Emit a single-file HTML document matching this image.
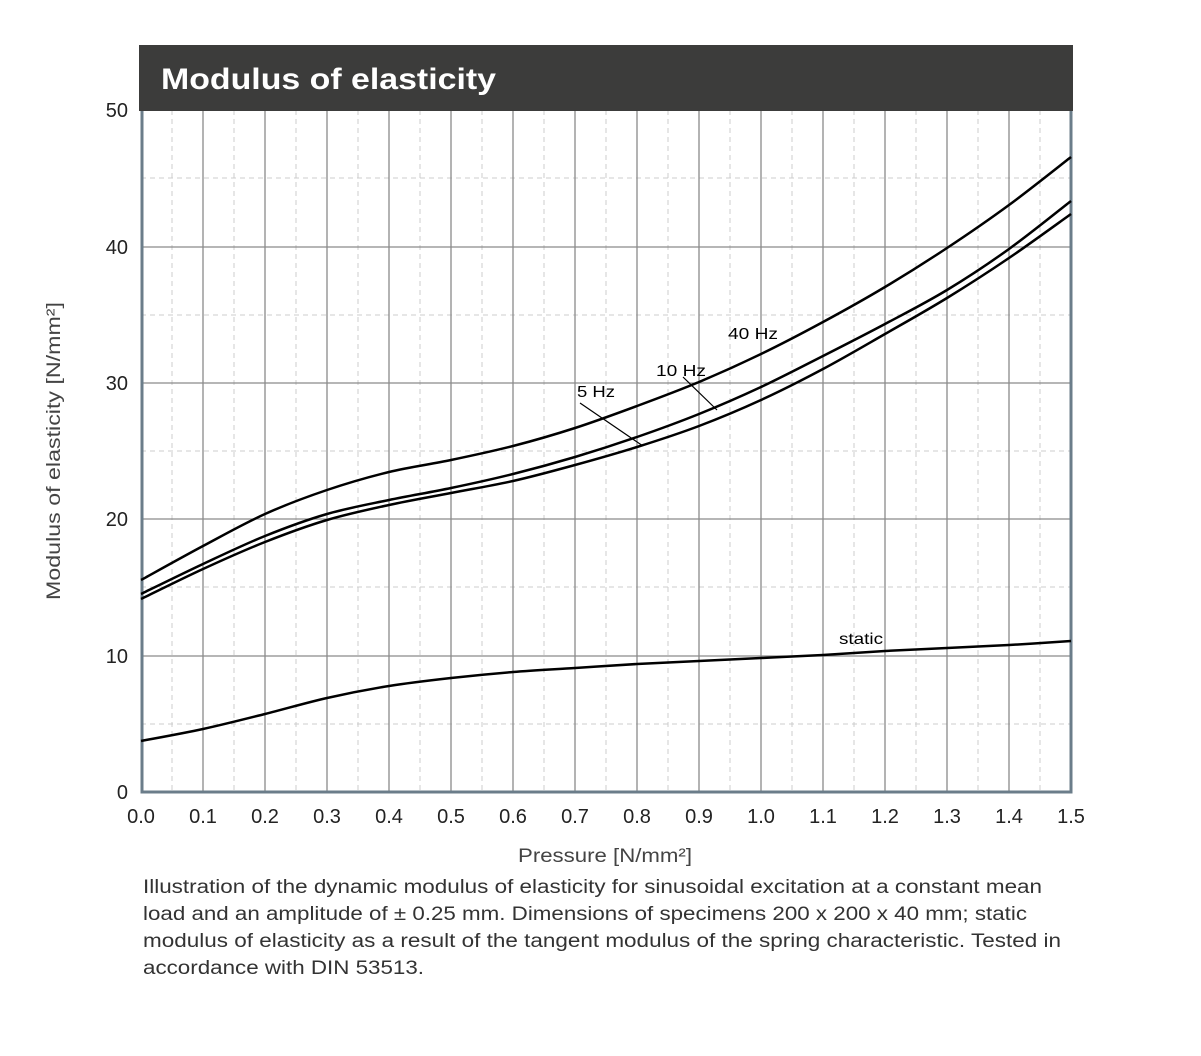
<!DOCTYPE html>
<html><head><meta charset="utf-8"><style>
body{margin:0;background:#fff;width:1201px;height:1051px;overflow:hidden;font-family:"Liberation Sans",sans-serif}
</style></head><body>
<svg id="s" width="1201" height="1051" xmlns="http://www.w3.org/2000/svg" font-family="Liberation Sans, sans-serif">
<g stroke="#ccc" stroke-width="1" stroke-dasharray="5,4">
<line x1="172" y1="110" x2="172" y2="792"/><line x1="234" y1="110" x2="234" y2="792"/><line x1="296" y1="110" x2="296" y2="792"/><line x1="358" y1="110" x2="358" y2="792"/><line x1="420" y1="110" x2="420" y2="792"/><line x1="482" y1="110" x2="482" y2="792"/><line x1="544" y1="110" x2="544" y2="792"/><line x1="606" y1="110" x2="606" y2="792"/><line x1="668" y1="110" x2="668" y2="792"/><line x1="730" y1="110" x2="730" y2="792"/><line x1="792" y1="110" x2="792" y2="792"/><line x1="854" y1="110" x2="854" y2="792"/><line x1="916" y1="110" x2="916" y2="792"/><line x1="978" y1="110" x2="978" y2="792"/><line x1="1040" y1="110" x2="1040" y2="792"/>
<line x1="141" y1="178" x2="1071" y2="178"/><line x1="141" y1="315" x2="1071" y2="315"/><line x1="141" y1="451" x2="1071" y2="451"/><line x1="141" y1="587" x2="1071" y2="587"/><line x1="141" y1="724" x2="1071" y2="724"/>
</g>
<g stroke="#8a8a8a" stroke-width="1.3">
<line x1="203" y1="110" x2="203" y2="792"/><line x1="265" y1="110" x2="265" y2="792"/><line x1="327" y1="110" x2="327" y2="792"/><line x1="389" y1="110" x2="389" y2="792"/><line x1="451" y1="110" x2="451" y2="792"/><line x1="513" y1="110" x2="513" y2="792"/><line x1="575" y1="110" x2="575" y2="792"/><line x1="637" y1="110" x2="637" y2="792"/><line x1="699" y1="110" x2="699" y2="792"/><line x1="761" y1="110" x2="761" y2="792"/><line x1="823" y1="110" x2="823" y2="792"/><line x1="885" y1="110" x2="885" y2="792"/><line x1="947" y1="110" x2="947" y2="792"/><line x1="1009" y1="110" x2="1009" y2="792"/>
<line x1="141" y1="247" x2="1071" y2="247"/><line x1="141" y1="383" x2="1071" y2="383"/><line x1="141" y1="519" x2="1071" y2="519"/><line x1="141" y1="656" x2="1071" y2="656"/>
</g>
<polyline points="142,110 142,792 1071,792 1071,110" fill="none" stroke="#6b7d8a" stroke-width="3"/>
<rect x="139" y="45" width="934" height="66" fill="#3c3c3b"/>
<text x="161" y="89" font-size="30" font-weight="bold" fill="#fff" textLength="335" lengthAdjust="spacingAndGlyphs">Modulus of elasticity</text>
<g id="curves" fill="none" stroke="#000" stroke-width="2.5" stroke-linejoin="round">
<polyline points="141,580 203,546 265,514 327,490 389,472 451,460 513,446 575,428 637,406 699,382 761,354 823,322 885,287 947,248 1009,205 1071,157"/>
<polyline points="141,594 203,564 265,536 327,514 389,500 451,488 513,474 575,457 637,437 699,414 761,387 823,356 885,324 947,290 1009,249 1071,201"/>
<polyline points="141,599 203,569 265,542 327,520 389,505 451,493 513,481 575,465 637,447 699,426 761,400 823,369 885,334 947,298 1009,258 1071,214"/>
<polyline points="141,741 203,729 265,714 327,698 389,686 451,678 513,672 575,668 637,664 699,661 761,658 823,655 885,651 947,648 1009,645 1071,641"/>
</g>
<g stroke="#000" stroke-width="1.2"><line x1="580" y1="403" x2="643" y2="446"/><line x1="683" y1="377" x2="717" y2="410"/></g>
<g font-size="16" fill="#000">
<text x="728" y="339" textLength="50" lengthAdjust="spacingAndGlyphs">40 Hz</text><text x="656" y="376" textLength="50" lengthAdjust="spacingAndGlyphs">10 Hz</text><text x="577" y="397" textLength="38" lengthAdjust="spacingAndGlyphs">5 Hz</text><text x="839" y="644" textLength="44" lengthAdjust="spacingAndGlyphs">static</text>
</g>
<g font-size="20" fill="#222" text-anchor="end">
<text x="128" y="117">50</text><text x="128" y="254">40</text><text x="128" y="390">30</text><text x="128" y="526">20</text><text x="128" y="663">10</text><text x="128" y="799">0</text>
</g>
<g font-size="20" fill="#222" text-anchor="middle">
<text x="141" y="823">0.0</text><text x="203" y="823">0.1</text><text x="265" y="823">0.2</text><text x="327" y="823">0.3</text><text x="389" y="823">0.4</text><text x="451" y="823">0.5</text><text x="513" y="823">0.6</text><text x="575" y="823">0.7</text><text x="637" y="823">0.8</text><text x="699" y="823">0.9</text><text x="761" y="823">1.0</text><text x="823" y="823">1.1</text><text x="885" y="823">1.2</text><text x="947" y="823">1.3</text><text x="1009" y="823">1.4</text><text x="1071" y="823">1.5</text>
</g>
<text x="518" y="862" font-size="19" fill="#444" textLength="174" lengthAdjust="spacingAndGlyphs">Pressure [N/mm²]</text>
<text transform="translate(60,600) rotate(-90)" font-size="19" fill="#444" textLength="298" lengthAdjust="spacingAndGlyphs">Modulus of elasticity [N/mm²]</text>
<g font-size="19" fill="#333" lengthAdjust="spacingAndGlyphs">
<text x="143" y="893" textLength="899" lengthAdjust="spacingAndGlyphs">Illustration of the dynamic modulus of elasticity for sinusoidal excitation at a constant mean</text>
<text x="143" y="920" textLength="884" lengthAdjust="spacingAndGlyphs">load and an amplitude of ± 0.25 mm. Dimensions of specimens 200 x 200 x 40 mm; static</text>
<text x="143" y="947" textLength="918" lengthAdjust="spacingAndGlyphs">modulus of elasticity as a result of the tangent modulus of the spring characteristic. Tested in</text>
<text x="143" y="974" textLength="281" lengthAdjust="spacingAndGlyphs">accordance with DIN 53513.</text>
</g>
</svg>
<script>
document.querySelectorAll('#curves polyline').forEach(function(pl){
var p=pl.getAttribute('points').trim().split(/\s+/).map(function(s){return s.split(',').map(Number);});
var d='M'+p[0][0]+','+p[0][1];
for(var i=0;i<p.length-1;i++){
var p0=p[Math.max(i-1,0)],p1=p[i],p2=p[i+1],p3=p[Math.min(i+2,p.length-1)];
var c1=[p1[0]+(p2[0]-p0[0])/6,p1[1]+(p2[1]-p0[1])/6],c2=[p2[0]-(p3[0]-p1[0])/6,p2[1]-(p3[1]-p1[1])/6];
d+=' C'+c1+' '+c2+' '+p2;}
var path=document.createElementNS('http://www.w3.org/2000/svg','path');path.setAttribute('d',d);
pl.parentNode.replaceChild(path,pl);});
</script>
</body></html>
